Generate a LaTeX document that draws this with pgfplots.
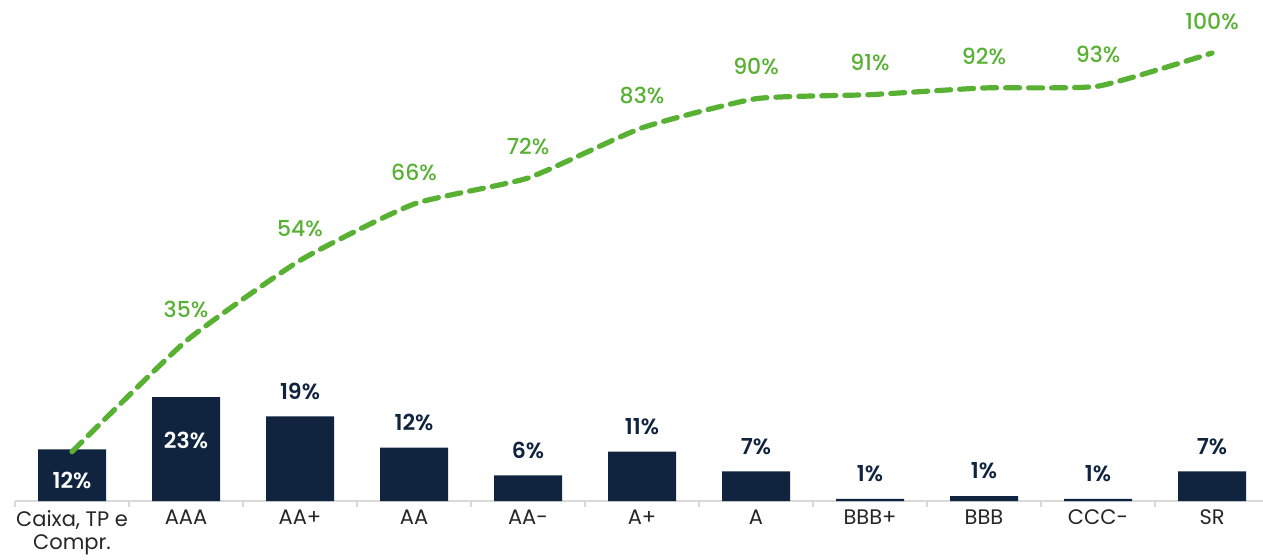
\documentclass[border=0pt]{standalone}
\usepackage{fontspec}
\setmainfont{Poppins}
\newfontfamily\medfont{Poppins Medium}
\newfontfamily\sbfont{Poppins SemiBold}
\usepackage{pgfplots}
\pgfplotsset{compat=1.18}
\definecolor{navy}{HTML}{10243F}
\definecolor{lgreen}{HTML}{58B133}
\definecolor{axgray}{HTML}{D9D9D9}
\definecolor{txt}{HTML}{262626}
\begin{document}
\begin{tikzpicture}
\useasboundingbox (-7.5pt,-29pt) rectangle (624pt,250.5pt);
\begin{axis}[
  scale only axis,
  width=624pt, height=224pt,
  xmin=-0.5, xmax=10.447,
  ymin=0, ymax=100,
  clip=false,
  axis x line=bottom,
  axis y line=none,
  axis line style={draw=axgray, line width=1pt, -},
  xtick={0,...,10},
  xticklabels={{Caixa, TP e\\Compr.},AAA,AA+,AA,AA-,A+,A,BBB+,BBB,CCC-,SR},
  xticklabel style={font=\fontsize{10.5}{11.5}\selectfont, text=txt, align=center, yshift=-1pt},
  major tick length=0pt,
  minor xtick={-0.5,0.5,...,10.5},
  minor tick length=3pt,
  tick align=outside,
  minor tick style={draw=axgray, line width=0.8pt},
  ytick=\empty,
]
\addplot[ybar, bar width=34pt, bar shift=0pt, fill=navy, draw=none]
  coordinates {(0,11.5) (1,23.2) (2,18.9) (3,11.9) (4,5.7) (5,11.0) (6,6.6) (7,0.5) (8,1.1) (9,0.5) (10,6.6)};
% labels above bars
\addplot[draw=none, mark=none, nodes near coords, point meta=explicit symbolic,
  every node near coord/.append style={anchor=center, yshift=12.5pt, text=navy, font=\sbfont\fontsize{11}{12}\selectfont}]
  table[meta=label] {
x y label
2 18.9 19\%
3 11.9 12\%
4 5.7 6\%
5 11.0 11\%
6 6.6 7\%
7 0.5 1\%
8 1.1 1\%
9 0.5 1\%
10 6.6 7\%
};
% labels inside first two bars
\addplot[draw=none, mark=none, nodes near coords, point meta=explicit symbolic,
  every node near coord/.append style={anchor=center, text=white, font=\sbfont\fontsize{11}{12}\selectfont}]
  table[meta=label] {
x y label
0 4.7 12\%
1 13.6 23\%
};
% cumulative line
\addplot[lgreen, line width=2.6pt, dash pattern=on 7pt off 4.5pt, line cap=round, smooth, tension=0.3]
  coordinates {(0,11) (1,35.7) (2,53.7) (3,66.3) (4,72.1) (5,83.3) (6,89.8) (7,90.7) (8,92.2) (9,92.6) (10,100)};
\addplot[draw=none, mark=none, nodes near coords, point meta=explicit symbolic,
  every node near coord/.append style={anchor=center, yshift=16pt, text=lgreen, font=\medfont\fontsize{11}{12}\selectfont}]
  table[meta=label] {
x y label
1 35.7 35\%
2 53.7 54\%
3 66.3 66\%
4 72.1 72\%
5 83.3 83\%
6 89.8 90\%
7 90.7 91\%
8 92.2 92\%
9 92.6 93\%
10 100 100\%
};
\end{axis}
\end{tikzpicture}
\end{document}
